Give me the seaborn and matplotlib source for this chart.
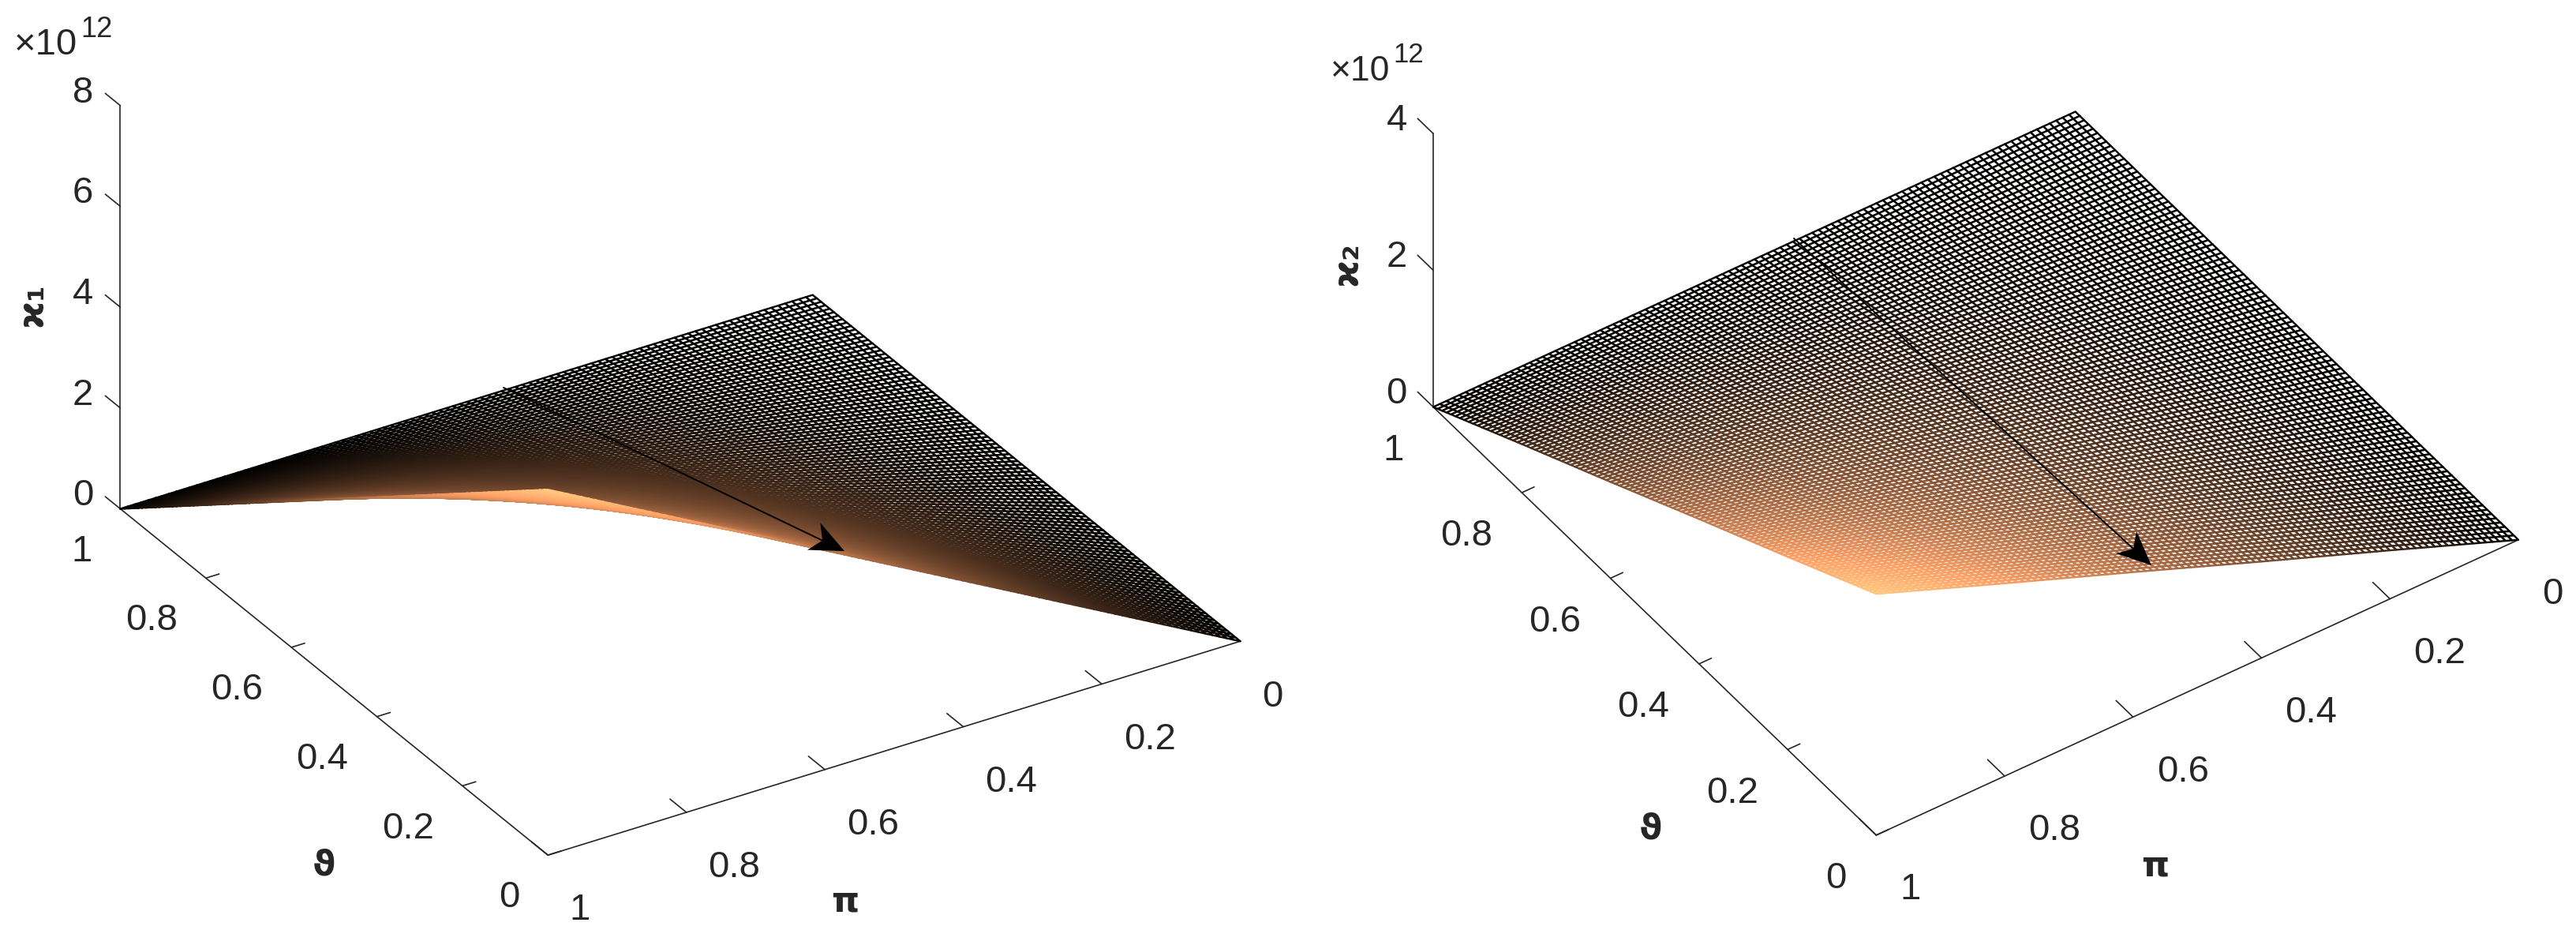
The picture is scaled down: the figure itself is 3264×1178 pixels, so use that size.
import numpy as np
import matplotlib
matplotlib.use("Agg")
import matplotlib.pyplot as plt
from matplotlib.patches import Polygon
from matplotlib.transforms import IdentityTransform
import seaborn as sns

# ---- values (kappa in units of 1e12) ----
theta_read = [0.0, 0.2, 0.4, 0.6, 0.8, 1.0]
pi_read = [0.0, 0.2, 0.4, 0.6, 0.8, 1.0]
# rows: pi_read, columns: theta_read
kappa1_read = [
    [0.00, 0.00, 0.00, 0.00, 0.00, 0.00],
    [1.45, 1.16, 0.87, 0.58, 0.29, 0.00],
    [2.90, 2.32, 1.74, 1.16, 0.58, 0.00],
    [4.35, 3.48, 2.61, 1.74, 0.87, 0.00],
    [5.80, 4.64, 3.48, 2.32, 1.16, 0.00],
    [7.25, 5.80, 4.35, 2.90, 1.45, 0.00],
]
kappa2_read = [
    [0.00, 0.00, 0.00, 0.00, 0.00, 0.00],
    [0.71, 0.56, 0.42, 0.28, 0.14, 0.00],
    [1.41, 1.13, 0.85, 0.56, 0.28, 0.00],
    [2.12, 1.69, 1.27, 0.85, 0.42, 0.00],
    [2.82, 2.26, 1.69, 1.13, 0.56, 0.00],
    [3.53, 2.82, 2.12, 1.41, 0.71, 0.00],
]
plane_ticks = [0, 0.2, 0.4, 0.6, 0.8, 1]
plane_labels = ["0", "0.2", "0.4", "0.6", "0.8", "1"]
z1_ticks = [0, 2, 4, 6, 8]
z2_ticks = [0, 2, 4]

MESH_CELLS = 100
W, H = 3264, 1178

sns.set_theme(style="ticks", rc={
    "axes.linewidth": 1.2, "xtick.major.width": 1.2, "ytick.major.width": 1.2,
})
plt.rcParams["font.family"] = ["Liberation Sans", "DejaVu Sans"]
INK = (0.15, 0.15, 0.15)
copper = sns.color_palette("copper", as_cmap=True)


def fx(px):
    return px / W


def fy(py):
    return 1 - py / H


def refine(table):
    # The wire mesh needs a dense grid: the read table is only resampled for drawing.
    fine = np.linspace(0, 1, MESH_CELLS + 1)
    t = np.asarray(table, float)
    by_theta = np.array([np.interp(fine, theta_read, row) for row in t])
    return fine, np.array([np.interp(fine, pi_read, col) for col in by_theta.T]).T


def stealth_arrow(ax, tail, tip, length=43, half=19, notch=31):
    tail_xy = np.array([tail[0], H - tail[1]], float)
    tip_xy = np.array([tip[0], H - tip[1]], float)
    along = (tip_xy - tail_xy) / np.linalg.norm(tip_xy - tail_xy)
    across = np.array([-along[1], along[0]])
    neck = tip_xy - notch * along
    ax.annotate("", xy=tuple(neck), xytext=tuple(tail_xy),
                xycoords="figure pixels", textcoords="figure pixels", zorder=1000,
                arrowprops=dict(arrowstyle="-", color="black", lw=1.4, shrinkA=0, shrinkB=0))
    fig.add_artist(Polygon([tip_xy, tip_xy - length * along + half * across, neck,
                            tip_xy - length * along - half * across],
                           closed=True, facecolor="black", edgecolor="none",
                           transform=IdentityTransform()))


def panel(table, zticks, elev, azim, zbox, center_px, wz, arrow, lw, pads):
    size = 1100
    zoom = wz / size
    left = center_px[0] - 0.5135 * size
    bottom = (H - center_px[1]) - 0.5135 * size
    ax = fig.add_axes([left / W, bottom / H, size / W, size / H], projection="3d",
                      proj_type="ortho", computed_zorder=True)
    ax.view_init(elev=elev, azim=azim)
    ax.set_box_aspect((1, 1, zbox), zoom=zoom)
    ax.set_xlim(0, 1, view_margin=0)
    ax.set_ylim(0, 1, view_margin=0)
    ax.set_zlim(zticks[0], zticks[-1], view_margin=0)
    ax.patch.set_visible(False)
    ax.grid(False)

    fine, zz = refine(table)
    xx, yy = np.meshgrid(fine, fine)   # x = theta, y = pi
    surf = ax.plot_surface(xx, yy, zz, rstride=1, cstride=1, color="white",
                           shade=False, linewidth=lw, antialiased=True)
    surf.set_clip_on(False)
    zmid = (zz[:-1, :-1] + zz[1:, 1:] + zz[:-1, 1:] + zz[1:, :-1]).ravel() / 4
    surf.set_edgecolor(copper(zmid / zz.max()))

    ax.set_xticks(plane_ticks, plane_labels)
    ax.set_yticks(plane_ticks, plane_labels)
    ax.set_zticks(zticks, [str(v) for v in zticks])
    ax.zaxis.set_ticks_position("upper")
    ax.zaxis._get_tickdir = lambda position: 0   # z ticks run along the theta direction
    ax.tick_params(axis="x", labelsize=34, colors=INK, pad=pads[0])
    ax.tick_params(axis="y", labelsize=34, colors=INK, pad=pads[1])
    ax.tick_params(axis="z", labelsize=34, colors=INK, pad=2)
    for t in ax.xaxis.get_ticklabels():
        t.set_ha("right")
    for t in ax.yaxis.get_ticklabels():
        t.set_ha("left")
    for t in ax.zaxis.get_ticklabels():
        t.set_ha("right")
        t.set_va("baseline")
    for axis, out in ((ax.xaxis, 0.24), (ax.yaxis, 0.48), (ax.zaxis, 0.44)):
        axis.set_pane_color((1, 1, 1, 0))
        axis.pane.set_edgecolor("none")
        axis.line.set_color(INK)
        axis._axinfo["tick"]["inward_factor"] = 0
        axis._axinfo["tick"]["outward_factor"] = out
    stealth_arrow(ax, arrow[:2], arrow[2:])
    return ax


fig = plt.figure(figsize=(W / 100, H / 100), dpi=100, facecolor="white")

panel(kappa1_read, z1_ticks, 30, 148.3, 0.572, (862, 473), 1527,
      (638, 491, 1070, 698), 1.7, (9, 13))
panel(kappa2_read, z2_ticks, 41.8, 145.4, 0.470, (2503.5, 426.5), 1430,
      (2273, 302, 2726, 716), 1.7, (11, 14))

label_font = dict(family="DejaVu Sans", fontweight="bold", color=INK, ha="center", va="center")
fig.text(fx(41), fy(386), "\u03f0\u2081", rotation=90, fontsize=34, **label_font)
fig.text(fx(1707), fy(334), "\u03f0\u2082", rotation=90, fontsize=34, **label_font)
fig.text(fx(410), fy(1096), "\u03d1", fontsize=32, **label_font)
fig.text(fx(2091), fy(1050), "\u03d1", fontsize=32, **label_font)
fig.text(fx(1071), fy(1142), "\u03c0", fontsize=32, **label_font)
fig.text(fx(2731), fy(1097), "\u03c0", fontsize=32, **label_font)

fig.text(fx(18), fy(69), "\u00d710", fontsize=34, color=INK, va="baseline")
fig.text(fx(102), fy(47), "12", fontsize=26, color=INK, va="baseline")
fig.text(fx(1686), fy(102), "\u00d710", fontsize=32, color=INK, va="baseline")
fig.text(fx(1765), fy(79), "12", fontsize=25, color=INK, va="baseline")

fig.savefig("out.png", dpi=100, facecolor="white")
